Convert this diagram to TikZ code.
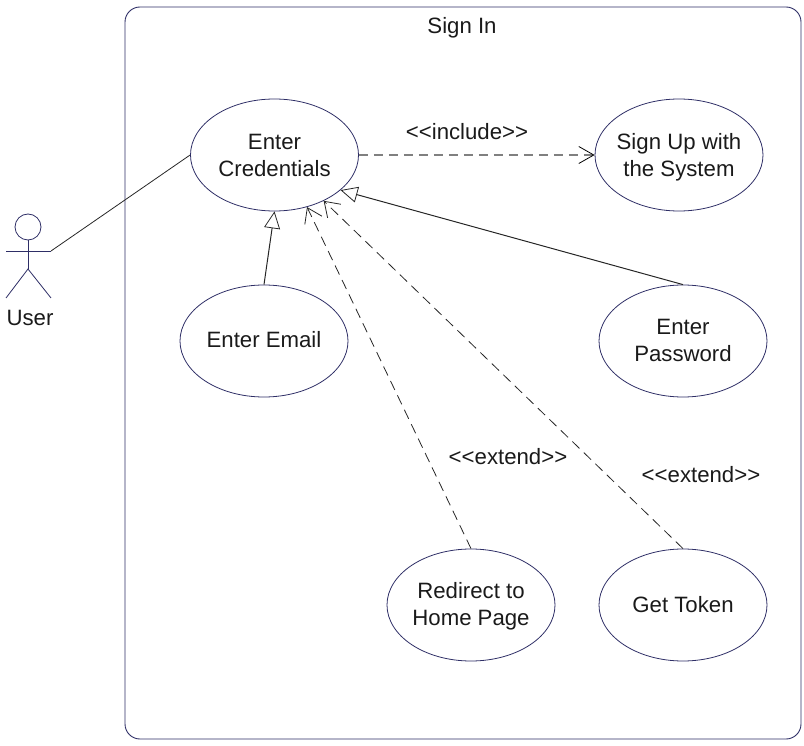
\documentclass[tikz,border=0pt]{standalone}
\usepackage{fontspec}
\setmainfont{Liberation Sans}
\usetikzlibrary{arrows.meta,shapes.geometric}
\definecolor{umlline}{HTML}{2E2E66}
\definecolor{txt}{HTML}{1A1A1A}
\newcommand{\twostrut}{\rule[-5.5pt]{0pt}{27pt}}
\newcommand{\onestrut}{\rule[-7pt]{0pt}{27pt}}
\newcommand{\tokstrut}{\rule[-6pt]{0pt}{27pt}}
\tikzset{
  every node/.style={font=\fontsize{22.2}{27}\selectfont, text=txt},
  usecase/.style={ellipse,draw=umlline,line width=0.8pt,minimum width=168pt,minimum height=112pt,inner sep=-16pt,align=center},
  sysframe/.style={rectangle,draw=umlline,line width=0.9pt,rounded corners=15pt,minimum width=676pt,minimum height=732pt,inner sep=0pt},
  label/.style={inner sep=0pt,align=center},
  actorline/.style={draw=umlline,line width=0.8pt},
  assoc/.style={draw=black!85,line width=0.8pt},
  general/.style={draw=black!85,line width=1pt,-{Triangle[open,length=17pt,width=16pt,line width=0.8pt]}},
  extendline/.style={draw=black!85,line width=0.8pt,dash pattern=on 10pt off 6pt,-{Straight Barb[length=14pt,width=19pt,line width=0.8pt]}},
  includeline/.style={draw=gray,line width=1.2pt,dash pattern=on 9pt off 6pt,-{Straight Barb[black,length=15pt,width=17pt,line width=0.8pt]}}
}
\begin{document}
\begin{tikzpicture}[x=1pt,y=-1pt]
\useasboundingbox (0,0) rectangle (804,746);
\node[sysframe] (frame) at (463,373) {};
\node[label] (title) at (462,28) {Sign In};
% use cases
\node[usecase] (cred) at (274.5,155) {\twostrut Enter\\\twostrut Credentials};
\node[usecase] (signup) at (679,155) {\twostrut Sign Up with\\\twostrut the System};
\node[usecase] (email) at (264,341) {\onestrut Enter Email};
\node[usecase] (pass) at (683,341) {\onestrut Enter\\\onestrut Password};
\node[usecase] (home) at (471,605) {\onestrut Redirect to\\\onestrut Home Page};
\node[usecase] (token) at (683,605) {\tokstrut Get Token};
% actor
\node[circle,actorline,minimum size=26pt,inner sep=0pt] (head) at (28,227) {};
\coordinate (neck) at (28,251);
\coordinate (hip) at (28,269);
\coordinate (handl) at (6,251);
\coordinate (handr) at (51,251);
\coordinate (footl) at (6,298);
\coordinate (footr) at (51,298);
\draw[actorline] (head.south) -- (hip);
\draw[actorline] (handl) -- (handr);
\draw[actorline] (footl) -- (hip) -- (footr);
\node[label] (user) at (30,318) {User};
% connectors
\draw[assoc] (handr) -- (cred.west);
\draw[includeline] (cred.east) -- (signup.west);
\draw[general] (email.north) -- (cred.south);
\draw[general] (pass.north) -- (cred.-28.4);
\draw[extendline] (home.north) -- (cred.-58);
\draw[extendline] (token.north) -- (cred.-43);
% labels
\node[label] (inc) at (467,132) {<{}<include>{}>};
\node[label] (ext1) at (508,457) {<{}<extend>{}>};
\node[label] (ext2) at (701,475) {<{}<extend>{}>};
\end{tikzpicture}
\end{document}
